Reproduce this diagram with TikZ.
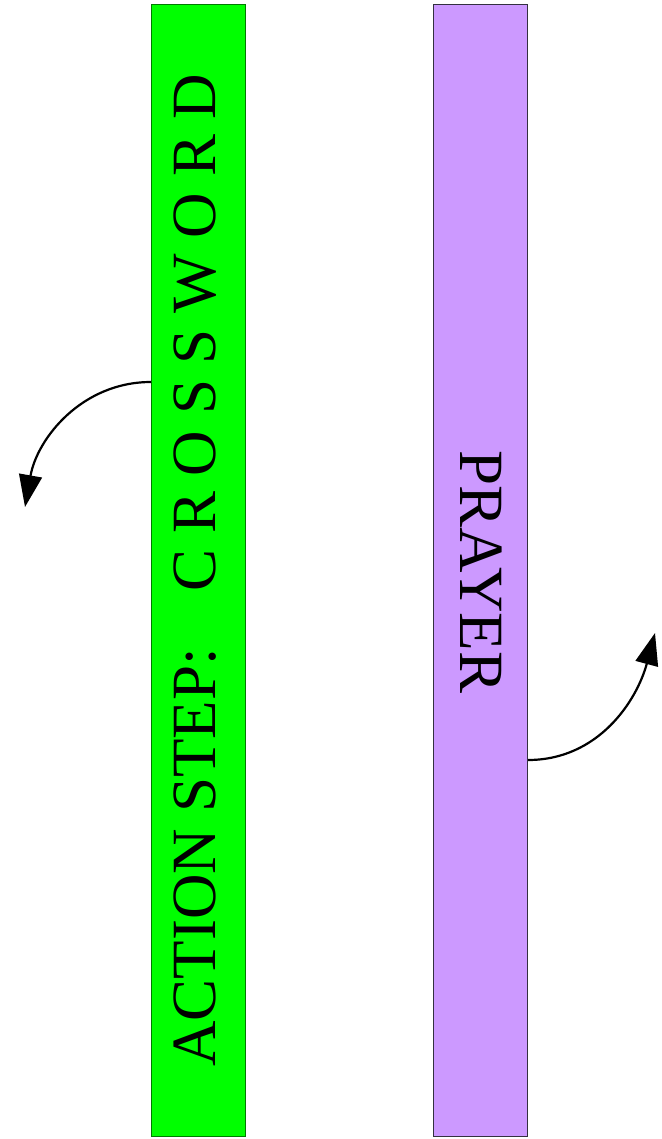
\documentclass[tikz,border=0pt]{standalone}
\usepackage{fontspec}
\setmainfont{Liberation Serif}
\usetikzlibrary{arrows.meta}
\definecolor{barGreen}{HTML}{00FF00}
\definecolor{barGreenEdge}{HTML}{007A00}
\definecolor{barPurple}{HTML}{CC99FF}
\definecolor{barPurpleEdge}{HTML}{333040}
\tikzset{
  bar/.style={rectangle, inner sep=0pt, minimum width=94pt, minimum height=1131pt, line width=1pt},
  bigtext/.style={font=\fontsize{63}{63}\selectfont, inner sep=0pt, anchor=base},
  curvearrow/.style={line width=2.2pt, -{Triangle[length=32pt,width=23pt]}}
}
\begin{document}
\begin{tikzpicture}[x=1pt,y=-1pt]
\useasboundingbox (0,0) rectangle (661,1139);
\node[bar, fill=barGreen, draw=barGreenEdge] (green) at (198,570.5) {};
\node[bar, fill=barPurple, draw=barPurpleEdge] (purple) at (480.5,570.5) {};
\node[bigtext, rotate=90] (gtext) at (215,570) {ACTION STEP:\hspace{0.9em}C R O S S W O R D};
\node[bigtext, rotate=-90] (ptext) at (460,572) {PRAYER};
\coordinate (gstart) at (151,382);
\coordinate (gend) at (25,507);
\coordinate (pstart) at (528,760);
\coordinate (pend) at (655,633);
\draw[curvearrow] (gstart) to[out=180,in=80] (gend);
\draw[curvearrow] (pstart) to[out=0,in=-105] (pend);
\end{tikzpicture}
\end{document}
